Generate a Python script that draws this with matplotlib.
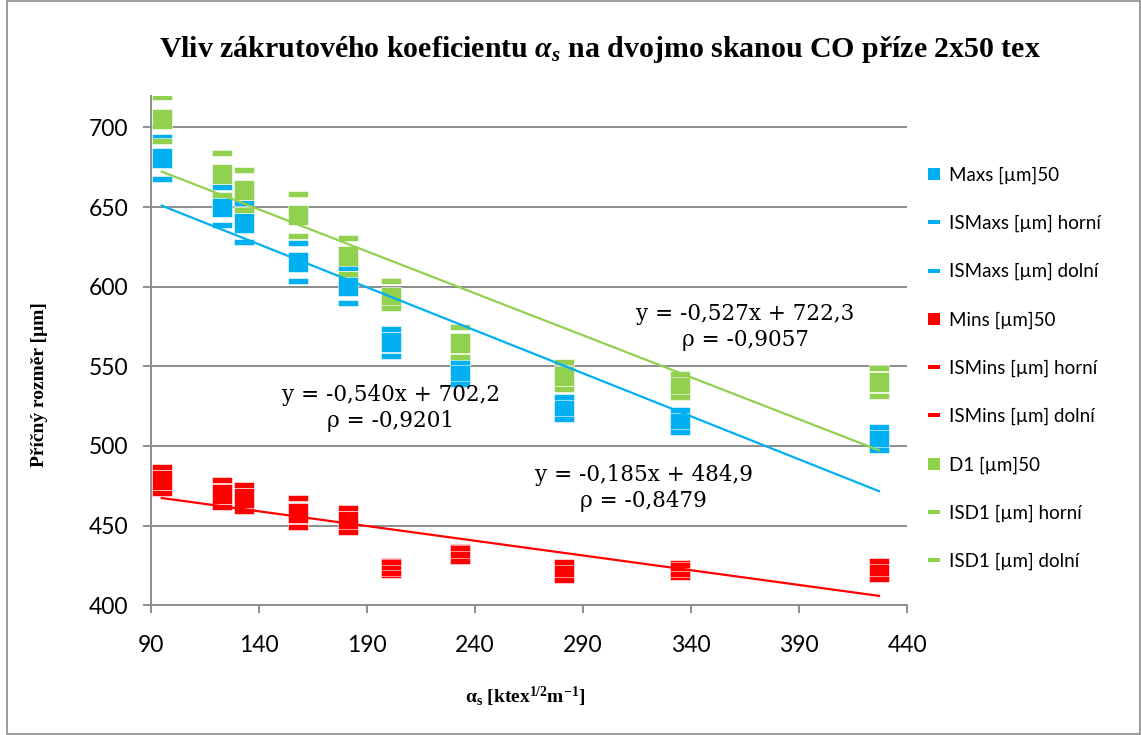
import matplotlib
matplotlib.use("Agg")
import matplotlib.pyplot as plt
from matplotlib.lines import Line2D
from matplotlib.patches import Rectangle
import numpy as np

# twist coefficient alpha_s [ktex^1/2 m^-1]
alpha_s = [95, 123, 133, 158, 181, 201, 233, 281, 335, 427]

maxs = [680.5, 650.2, 640.1, 615.5, 600.4, 565.0, 546.0, 524.0, 515.7, 504.6]
maxs_upper = [694.1, 662.7, 652.7, 627.6, 611.5, 573.5, 553.0, 531.0, 522.8, 511.7]
maxs_lower = [667.4, 638.7, 628.2, 603.6, 590.0, 556.5, 539.0, 517.0, 508.5, 497.7]

mins = [478.6, 470.1, 467.2, 458.2, 453.0, 423.5, 432.0, 421.6, 422.3, 422.0]
mins_upper = [487.0, 478.5, 475.5, 467.5, 461.0, 427.0, 436.0, 427.3, 425.0, 427.5]
mins_lower = [470.3, 461.6, 458.9, 449.0, 446.0, 420.0, 428.0, 415.8, 419.5, 416.5]

d1 = [705.0, 670.5, 660.6, 645.0, 619.1, 593.7, 564.9, 544.0, 537.8, 540.2]
d1_upper = [719.0, 683.7, 673.2, 658.2, 630.4, 603.4, 574.9, 552.5, 545.0, 548.9]
d1_lower = [691.4, 657.5, 648.1, 631.8, 607.8, 586.6, 556.0, 535.8, 530.5, 531.6]

# trend lines as printed in the chart: slope, intercept, rho
trend_maxs = (-0.540, 702.2, -0.9201)
trend_mins = (-0.185, 484.9, -0.8479)
trend_d1 = (-0.527, 722.3, -0.9057)

c_blue = "#00B0F0"
c_red = "#FF0000"
c_green = "#92D050"

plt.rcParams["mathtext.fontset"] = "custom"
plt.rcParams["mathtext.rm"] = "Liberation Serif:bold"
plt.rcParams["mathtext.it"] = "Liberation Serif:italic:bold"
plt.rcParams["mathtext.bf"] = "Liberation Serif:bold"

dash = [(-1, -0.27), (1, -0.27), (1, 0.27), (-1, 0.27), (-1, -0.27)]

fig = plt.figure(figsize=(11.41, 7.35), dpi=100)
ax = fig.add_axes([0.1323, 0.1765, 0.6627, 0.6935])

ms = 14.4
series = [
    (maxs, maxs_upper, maxs_lower, c_blue),
    (mins, mins_upper, mins_lower, c_red),
    (d1, d1_upper, d1_lower, c_green),
]
z = 3
for mid, up, lo, col in series:
    ax.plot(alpha_s, mid, ls="none", marker="s", ms=ms, color=col,
            mec="white", mew=0.4, zorder=z)
    ax.plot(alpha_s, up, ls="none", marker=dash, ms=ms, color=col,
            mec="white", mew=0.4, zorder=z + 0.1)
    ax.plot(alpha_s, lo, ls="none", marker=dash, ms=ms, color=col,
            mec="white", mew=0.4, zorder=z + 0.2)
    z += 1

xs = np.array([min(alpha_s), max(alpha_s)])
for (k, q, r), col in [(trend_maxs, c_blue), (trend_mins, c_red), (trend_d1, c_green)]:
    ax.plot(xs, k * xs + q, color=col, lw=1.6, zorder=10)

def eq_text(k, q, r):
    s = "y = %.3fx + %.1f\nρ = %.4f" % (k, q, r)
    return s.replace(".", ",")

eq_kw = dict(ha="center", va="center", fontsize=15.5, family="DejaVu Serif",
             linespacing=1.25, zorder=12)
ax.text(201, 523.8, eq_text(*trend_maxs), **eq_kw)
ax.text(365, 574.6, eq_text(*trend_d1), **eq_kw)
ax.text(318, 473.6, eq_text(*trend_mins), **eq_kw)

ax.set_xlim(90, 440)
ax.set_ylim(400, 720)
ax.set_xticks(np.arange(90, 441, 50))
ax.set_yticks(np.arange(400, 701, 50))
ax.yaxis.grid(True, color="#8c8c8c", lw=1.4)
ax.set_axisbelow(True)
for s in ["top", "right"]:
    ax.spines[s].set_visible(False)
for s in ["left", "bottom"]:
    ax.spines[s].set_color("#8c8c8c")
    ax.spines[s].set_linewidth(1.4)
ax.tick_params(axis="both", color="#8c8c8c", width=1.4, length=5.5,
               labelsize=16.5)
ax.tick_params(axis="x", pad=16)
ax.tick_params(axis="y", pad=11)
for lab in ax.get_xticklabels() + ax.get_yticklabels():
    lab.set_family("Lato")

fig.text(0.526, 0.933,
         r"Vliv zákrutového koeficientu $\alpha_s$ na dvojmo skanou CO příze 2x50 tex",
         ha="center", va="center", fontsize=21.5, fontweight="bold",
         family="Liberation Serif")
fig.text(0.035, 0.477, "Příčný rozměr [µm]", rotation=90, ha="center",
         va="center", fontsize=14, fontweight="bold", family="Liberation Serif")
fig.text(0.46, 1 - 697 / 735,
         r"α$_\mathrm{s}$ [ktex$^\mathrm{1/2}$m$^\mathrm{-1}$]",
         ha="center", va="center", fontsize=14, fontweight="bold",
         family="Liberation Serif")

labels = ["Maxs [µm]50", "ISMaxs [µm] horní", "ISMaxs [µm] dolní",
          "Mins [µm]50", "ISMins [µm] horní", "ISMins [µm] dolní",
          "D1 [µm]50", "ISD1 [µm] horní", "ISD1 [µm] dolní"]
handles = []
for mid, up, lo, col in series:
    handles.append(Line2D([], [], ls="none", marker="s", ms=9, color=col, mew=0))
    handles.append(Line2D([], [], ls="none", marker=dash, ms=9, color=col, mew=0))
    handles.append(Line2D([], [], ls="none", marker=dash, ms=9, color=col, mew=0))
leg = fig.legend(handles, labels, loc="upper left",
                 bbox_to_anchor=(0.805, 1 - 159 / 735), frameon=False,
                 prop={"family": "Lato", "size": 13.5}, labelspacing=1.65,
                 handlelength=0.8, handletextpad=0.4, borderaxespad=0)

fig.patches.append(Rectangle((0.006, 0.002), 0.993, 0.996, transform=fig.transFigure,
                             fill=False, ec="#8c8c8c", lw=1.2))

fig.savefig("out.png", dpi=100)
